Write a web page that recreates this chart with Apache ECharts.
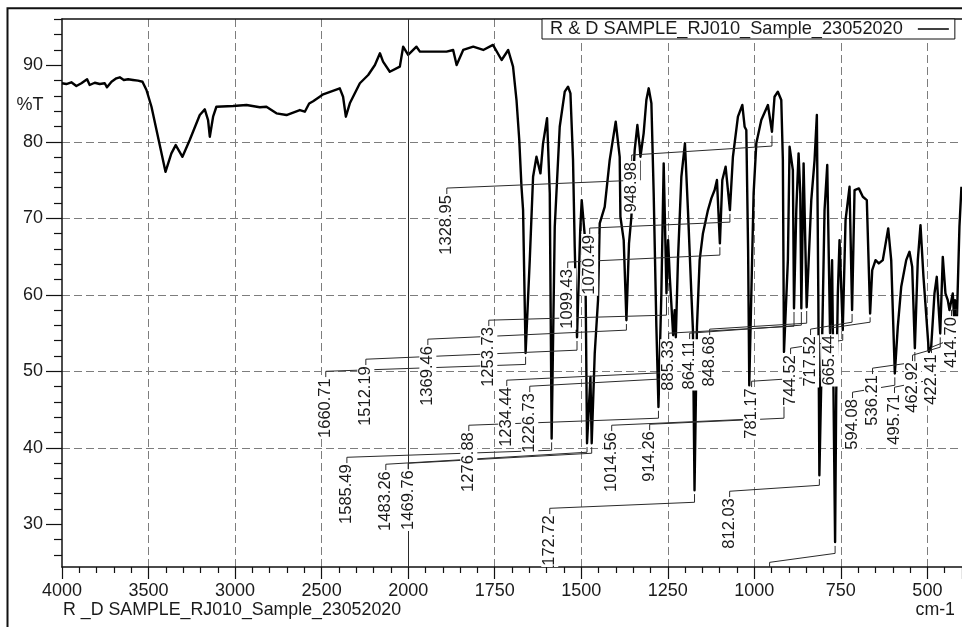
<!DOCTYPE html>
<html>
<head>
<meta charset="utf-8">
<title>R & D SAMPLE_RJ010_Sample_23052020</title>
<script src="https://cdn.jsdelivr.net/npm/echarts@6/dist/echarts.min.js"></script>
<style>
  html, body { margin: 0; padding: 0; background: #fff; overflow: hidden; }
  #chart { width: 962px; height: 627px; }
</style>
</head>
<body>
<div id="chart"></div>
<script>
// FTIR spectrum, %T against wavenumber (cm-1)
const wavenumber = [
  4000, 3975, 3946, 3917, 3888, 3855, 3840, 3811, 3782, 3753,
  3740, 3714, 3686, 3666, 3643, 3618, 3590, 3561, 3535, 3512,
  3483, 3454, 3425, 3402, 3368, 3343, 3304, 3262, 3204, 3175,
  3156, 3146, 3127, 3108, 3012, 2934, 2857, 2819, 2761, 2703,
  2626, 2597, 2572, 2549, 2511, 2491, 2395, 2376, 2360, 2337,
  2279, 2231, 2192, 2163, 2145, 2106, 2048, 2029, 2000, 1976,
  1966, 1928, 1889, 1870, 1860, 1841, 1812, 1783, 1755, 1730,
  1711, 1697, 1687, 1679, 1672.6, 1668, 1660.71, 1648.7, 1639.1, 1629.3,
  1617.8, 1610.3, 1598.7, 1590.9, 1585.49, 1576.5, 1562.1, 1547.6, 1538.1, 1531.2,
  1523.7, 1518.8, 1512.19, 1502.9, 1498.6, 1489.9, 1487, 1483.26, 1473.4, 1469.76,
  1461, 1451.5, 1446.6, 1432.2, 1417.8, 1400.4, 1388.9, 1386.8, 1377.3, 1369.46,
  1362, 1355.1, 1345.6, 1337.8, 1331.1, 1328.95, 1319.7, 1311.8, 1305.1, 1297.3,
  1290.7, 1282.9, 1276.88, 1268.5, 1261.8, 1253.73, 1249.1, 1244.2, 1234.44, 1230,
  1226.73, 1220.6, 1210.7, 1200.4, 1191.7, 1181.9, 1177.3, 1172.72, 1165.7, 1157.9,
  1148.4, 1133.9, 1124.1, 1114.6, 1107.9, 1099.43, 1092.4, 1082.9, 1070.49, 1061.8,
  1047.3, 1034.6, 1028, 1023.1, 1017.9, 1014.56, 1002, 994.2, 979.8, 960.7,
  948.98, 941.6, 932, 922.1, 917.5, 914.26, 903, 898.1, 888.6, 885.33,
  878.7, 872.1, 867.2, 864.11, 857.6, 848.68, 835.4, 825.9, 819.3, 815,
  812.03, 803.7, 797.1, 789.3, 781.17, 775.3, 766.6, 763.3, 758.7, 753.8,
  744.52, 736.4, 724.9, 717.52, 710.4, 698, 686.5, 675, 665.44, 659.4,
  649.8, 640.3, 628.8, 613.2, 604.5, 594.08, 585.5, 575.6, 561.2, 551.7,
  543.9, 536.21, 527.7, 519.9, 511.3, 495.71, 489, 479.5, 472.9, 462.92,
  455.5, 447.8, 441.1, 436.2, 426.7, 422.41, 420.3, 414.7, 407.4, 401.6
];
const transmittance = [
  87.65, 87.55, 87.78, 87.29, 87.65, 88.17, 87.42, 87.72, 87.55, 87.65,
  87.12, 87.85, 88.3, 88.43, 88.08, 88.17, 88.08, 87.99, 87.85, 86.77,
  84.58, 81.54, 78.49, 76.08, 78.49, 79.57, 78.04, 80.23, 83.5, 84.24,
  82.84, 80.66, 83.28, 84.58, 84.68, 84.81, 84.51, 84.58, 83.72, 83.5,
  84.15, 83.93, 85.0, 85.3, 85.9, 86.2, 86.99, 85.89, 83.28, 85.03,
  87.65, 88.73, 90.04, 91.57, 90.47, 89.16, 89.82, 92.43, 91.35, 92.43,
  91.78, 91.78, 91.78, 92.0, 90.04, 92.0, 92.43, 92.0, 92.66, 90.69,
  92.0, 89.82, 85.46, 80.23, 74.12, 71.07, 52.4, 64.53, 75.43, 78.04,
  75.87, 79.8, 83.07, 73.3, 41.21, 68.89, 81.97, 86.55, 87.2, 86.34,
  77.61, 66.27, 54.46, 68.46, 72.38, 67.8, 59.27, 40.59, 49.27, 40.59,
  52.33, 59.3, 69.33, 71.5, 77.61, 82.62, 78.04, 70.2, 67.15, 56.68,
  66.72, 70.2, 78.92, 82.19, 79.35, 78.04, 81.11, 85.46, 86.99, 85.03,
  73.26, 55.81, 45.34, 60.18, 77.18, 60.2, 67.15, 62.35, 54.72, 58.0,
  54.46, 64.53, 75.43, 79.8, 71.07, 60.18, 55.38, 34.45, 55.81, 64.53,
  68.02, 71.07, 72.6, 73.69, 75.0, 66.72, 75.0, 76.74, 71.07, 78.04,
  83.28, 84.81, 81.97, 81.54, 65.84, 48.18, 73.26, 79.8, 82.84, 84.81,
  81.31, 85.89, 86.55, 85.46, 77.61, 52.54, 64.53, 79.35, 76.3, 58.25,
  71.07, 78.49, 73.26, 58.25, 77.18, 58.38, 72.38, 77.61, 83.5, 59.3,
  36.41, 54.94, 71.07, 76.96, 54.98, 64.53, 27.68, 47.14, 60.18, 67.15,
  55.38, 69.76, 74.12, 58.0, 73.69, 73.91, 72.81, 72.38, 57.56, 63.22,
  64.53, 64.1, 64.53, 68.68, 64.53, 49.71, 55.81, 61.04, 64.53, 65.62,
  63.66, 53.02, 64.53, 69.11, 62.35, 52.54, 53.19, 60.18, 62.35, 54.94,
  64.96, 60.18, 59.3, 58.0, 60.18, 56.68, 59.3, 56.94, 68.89, 74.12
];

// picked peaks (cm-1)
const peakLabels = [
  '1660.71', '1585.49', '1512.19', '1483.26', '1469.76', '1369.46', '1328.95',
  '1276.88', '1253.73', '1234.44', '1226.73', '1172.72', '1099.43', '1070.49',
  '1014.56', '948.98', '914.26', '885.33', '864.11', '848.68', '812.03',
  '781.17', '744.52', '717.52', '665.44', '594.08', '536.21', '495.71',
  '462.92', '422.41', '414.70'
];
// peak whose label falls below the plot frame: only its leader shows
const unlabeledPeaks = [766.6];

const xTickLabels = [4000, 3500, 3000, 2500, 2000, 1750, 1500, 1250, 1000, 750, 500];
const yTickLabels = [30, 40, 50, 60, 70, 80, 90];

// leader layout, one row per peak: [label position (cm-1), elbow %T, leader %T at the peak]
const labelLayout = [
  [2476, 50.0, 50.9], [2354, 38.76, 39.68], [2244.5, 51.58, 52.76], [2129, 37.85, 39.42],
  [2000, 37.98, 39.29], [1943.1, 54.2, 55.38], [1888.3, 73.95, 75.0], [1824.8, 42.95, 43.87],
  [1767, 56.68, 57.34], [1715.1, 48.84, 49.88], [1648.7, 48.05, 49.1], [1590.9, 32.09, 32.88],
  [1539, 64.27, 65.19], [1475.5, 68.72, 69.5], [1412, 42.95, 43.74], [1354.2, 78.27, 79.44],
  [1302.3, 43.08, 43.87], [1247.4, 54.98, 55.9], [1186.8, 54.98, 56.03], [1129, 55.51, 56.29],
  [1071.3, 34.32, 35.1], [1007.8, 48.7, 49.36], [895.2, 53.02, 54.06], [837.5, 55.51, 56.42],
  [782.6, 55.64, 56.42], [716.2, 47.27, 48.18], [658.5, 50.41, 51.19], [595, 47.92, 48.84],
  [543, 52.11, 53.15], [488.2, 53.15, 54.33], [430.4, 57.99, 58.12]
];
const unlabeledLayout = [[955.8, 25.03, 26.2]];

const FONT = '"Liberation Sans", Arial, Helvetica, sans-serif';
const INK = '#1a1a1a';
const SERIES_NAME = 'R & D SAMPLE_RJ010_Sample_23052020';

// The axis runs at half scale above 2000 cm-1 and full scale below it.
const toAxis = w => (w >= 2000 ? (4000 - w) / 2 : 1000 + (2000 - w));
const fromAxis = u => (u <= 1000 ? 4000 - 2 * u : 2000 - (u - 1000));

const spectrum = wavenumber.map((w, i) => [toAxis(w), transmittance[i]]);

const peaks = peakLabels.map((t, i) => ({ text: t, pos: parseFloat(t), layout: labelLayout[i] }))
  .concat(unlabeledPeaks.map((p, i) => ({ text: '', pos: p, layout: unlabeledLayout[i] })));

const peakT = pos => transmittance[wavenumber.indexOf(pos)];

const dashed = { color: '#7d7d7d', width: 1, type: [8, 4] };
const axisInk = { color: '#111', width: 1.5 };
const tickInk = { color: '#111', width: 1.2 };

const chart = echarts.init(document.getElementById('chart'), null, { renderer: 'canvas' });

chart.setOption({
  animation: false,
  backgroundColor: '#fff',
  textStyle: { fontFamily: FONT },
  grid: { left: 62, right: -1, top: 19, bottom: 60, containLabel: false },
  legend: {
    left: 542, top: 19,
    data: [SERIES_NAME],
    align: 'right',
    icon: 'rect', itemWidth: 31, itemHeight: 1.5,
    itemStyle: { color: '#000' },
    padding: [1, 6, 1, 8],
    borderColor: '#111', borderWidth: 1, backgroundColor: '#fff',
    selectedMode: false,
    textStyle: { fontSize: 18.2, color: INK, fontFamily: FONT, lineHeight: 18, padding: [0, 10, 0, 0] }
  },
  xAxis: [{
    type: 'value', min: 0, max: 2600, interval: 250,
    axisLine: { show: true, onZero: false, lineStyle: axisInk },
    axisTick: { show: true, length: 12, lineStyle: tickInk },
    minorTick: { show: true, splitNumber: 5, length: 6, lineStyle: tickInk },
    axisLabel: {
      customValues: xTickLabels.map(toAxis),
      formatter: v => String(Math.round(fromAxis(v))),
      fontSize: 18, color: INK, fontFamily: FONT, margin: 15
    },
    splitLine: { show: true, showMinLine: false, showMaxLine: false, lineStyle: dashed }
  }, {
    type: 'value', position: 'top', min: 0, max: 2600,
    axisLine: { show: true, onZero: false, lineStyle: axisInk },
    axisTick: { show: false }, axisLabel: { show: false }, splitLine: { show: false }
  }],
  yAxis: {
    type: 'value', min: 24.42, max: 96.05, splitNumber: 7, minInterval: 10, maxInterval: 10,
    axisLine: { show: true, onZero: false, lineStyle: axisInk },
    axisTick: { show: true, customValues: yTickLabels, length: 16, lineStyle: tickInk },
    minorTick: { show: true, splitNumber: 5, length: 8, lineStyle: tickInk },
    axisLabel: { customValues: yTickLabels, fontSize: 18, color: INK, fontFamily: FONT, margin: 19 },
    splitLine: { show: true, showMinLine: false, showMaxLine: false, lineStyle: dashed }
  },
  series: [{
    type: 'line',
    name: SERIES_NAME,
    data: spectrum,
    showSymbol: false, symbol: 'none',
    lineStyle: { color: '#000', width: 2.4, join: 'round' },
    itemStyle: { color: '#000' },
    z: 2,
    markLine: {
      silent: true, symbol: 'none', animation: false,
      label: { show: false },
      lineStyle: { color: '#2a2a2a', width: 1, type: 'solid' },
      data: [{ xAxis: toAxis(2000) }]
    }
  }, {
    // peak leaders and their rotated labels, drawn above the 2000 cm-1 divider
    type: 'custom',
    name: 'peaks',
    z: 8,
    clip: true,
    silent: true,
    data: peaks.map((p, i) => [toAxis(p.layout[0]), p.layout[1], i]),
    encode: { x: 0, y: 1 },
    renderItem(params, api) {
      const p = peaks[api.value(2)];
      const [lw, e1, e2] = p.layout;
      const t = peakT(p.pos);
      const endT = t + (e2 < t ? -0.5 : 0.5);
      const elbow = api.coord([toAxis(lw), e1]);
      const atPeak = api.coord([toAxis(p.pos), e2]);
      const end = api.coord([toAxis(p.pos), endT]);
      const anchor = [elbow[0], elbow[1] + 6];
      const children = [{
        type: 'polyline', z2: 1,
        shape: { points: [anchor, elbow, atPeak, end] },
        style: { stroke: '#2a2a2a', lineWidth: 1, fill: null }
      }];
      if (p.text) {
        children.push({
          type: 'text', z2: 10,
          x: anchor[0], y: anchor[1], rotation: Math.PI / 2,
          style: {
            text: p.text, fontSize: 16.5, fontFamily: FONT, fill: INK,
            align: 'right', verticalAlign: 'middle',
            backgroundColor: '#fff', padding: [0, 1]
          }
        });
      }
      return { type: 'group', children };
    }
  }],
  graphic: [
    { type: 'rect', silent: true, z: 100,
      shape: { x: 7.5, y: 8.3, width: 1000, height: 700 },
      style: { fill: 'none', stroke: '#111', lineWidth: 2 } },
    { type: 'text', silent: true, x: 30, y: 105,
      style: { text: '%T', fontSize: 18, fontFamily: FONT, fill: INK, align: 'center', verticalAlign: 'middle' } },
    { type: 'text', silent: true, x: 63, y: 610,
      style: { text: 'R _D SAMPLE_RJ010_Sample_23052020', fontSize: 17.8, fontFamily: FONT, fill: INK, align: 'left', verticalAlign: 'middle' } },
    { type: 'text', silent: true, x: 955, y: 610,
      style: { text: 'cm-1', fontSize: 17.8, fontFamily: FONT, fill: INK, align: 'right', verticalAlign: 'middle' } }
  ]
});
</script>
</body>
</html>
